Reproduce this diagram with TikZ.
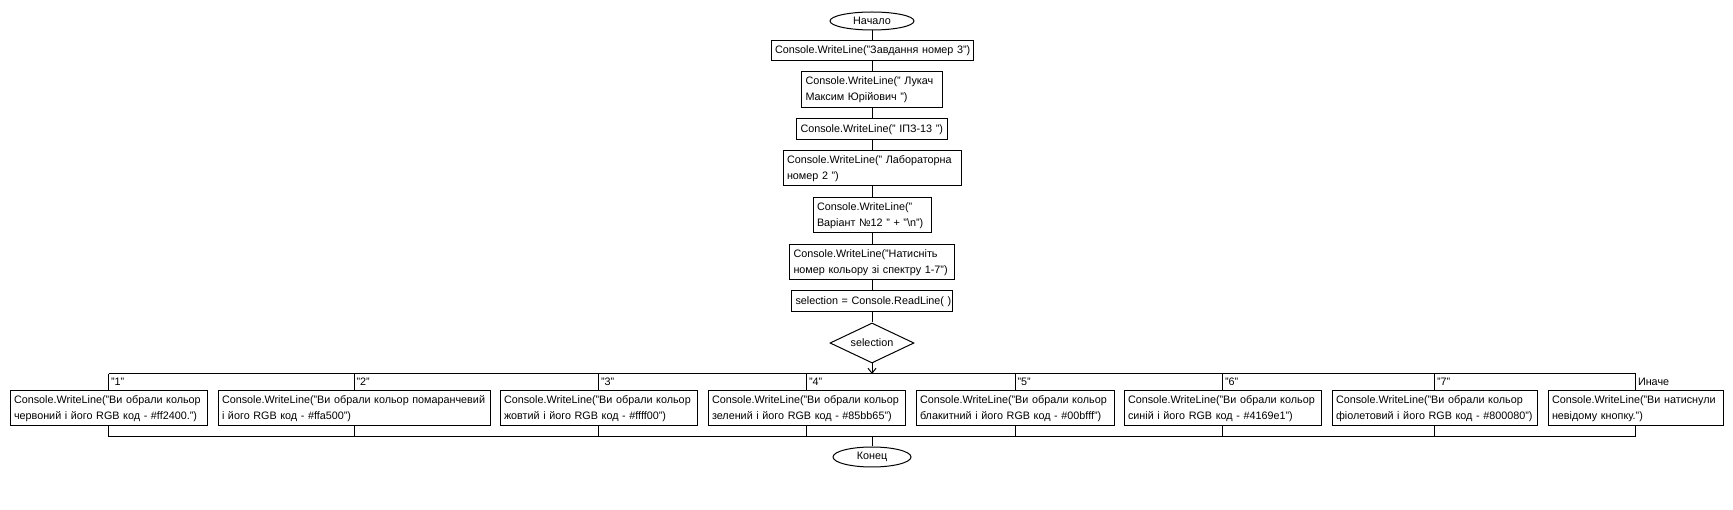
\documentclass[tikz,border=0pt]{standalone}
\usepackage{fontspec}
\setmainfont{Liberation Sans}
\usetikzlibrary{shapes.geometric,arrows.meta}
\newcommand{\lnA}[1]{\mbox{#1}}
\begin{document}
\begin{tikzpicture}[x=1pt,y=-1pt,line width=1pt,
  every node/.style={font=\fontsize{10.8}{16}\selectfont},
  blk/.style={draw,rectangle,inner xsep=4pt,inner ysep=0pt,align=left},
  term/.style={draw,ellipse,inner sep=0pt},
  dec/.style={draw,diamond,aspect=2.1,inner sep=0pt,minimum width=84pt,minimum height=40pt},
  lbl/.style={inner sep=0pt,anchor=west},
  flow/.style={line width=1pt}]
\useasboundingbox (0,0) rectangle (1733,510);
\fill[white] (0,0) rectangle (1733,510);

% main column
\node[term,minimum width=84pt,minimum height=18pt] (start) at (872,21) {Начало};
\node[blk,text width=194pt,minimum height=20pt] (b1) at (872,51) {\lnA{Console.WriteLine("Завдання номер 3")}};
\node[blk,text width=133pt,minimum height=36pt] (b2) at (872,90) {\lnA{Console.WriteLine(" Лукач}\\\lnA{Максим Юрійович ")}};
\node[blk,text width=143pt,minimum height=21pt] (b3) at (872,129.5) {\lnA{Console.WriteLine(" ІПЗ-13 ")}};
\node[blk,text width=170pt,minimum height=35pt] (b4) at (872,168.5) {\lnA{Console.WriteLine(" Лабораторна}\\\lnA{номер 2 ")}};
\node[blk,text width=110pt,minimum height=35pt] (b5) at (872,215.5) {\lnA{Console.WriteLine("}\\\lnA{Варіант №12 " + "\textbackslash n")}};
\node[blk,text width=157pt,minimum height=35pt] (b6) at (872,262.5) {\lnA{Console.WriteLine("Натисніть}\\\lnA{номер кольору зі спектру 1-7")}};
\node[blk,text width=153pt,minimum height=21pt] (b7) at (872,301.5) {\lnA{selection = Console.ReadLine( )}};
\node[dec] (dec) at (872,343) {selection};

\draw[flow] (start) -- (b1);
\draw[flow] (b1) -- (b2);
\draw[flow] (b2) -- (b3);
\draw[flow] (b3) -- (b4);
\draw[flow] (b4) -- (b5);
\draw[flow] (b5) -- (b6);
\draw[flow] (b6) -- (b7);
\draw[flow] (b7) -- (dec);

% branches
\coordinate (bt) at (872,374);
\coordinate (bb) at (872,437);
\node[blk,text width=189pt,minimum height=35pt] (c1) at (108.5,408.5) {\lnA{Console.WriteLine("Ви обрали кольор}\\\lnA{червоний і його RGB код - \#ff2400.")}};
\node[blk,text width=264pt,minimum height=35pt] (c2) at (354,408.5) {\lnA{Console.WriteLine("Ви обрали кольор помаранчевий}\\\lnA{і його RGB код - \#ffa500")}};
\node[blk,text width=189pt,minimum height=35pt] (c3) at (598.5,408.5) {\lnA{Console.WriteLine("Ви обрали кольор}\\\lnA{жовтий і його RGB код - \#ffff00")}};
\node[blk,text width=189pt,minimum height=35pt] (c4) at (806.5,408.5) {\lnA{Console.WriteLine("Ви обрали кольор}\\\lnA{зелений і його RGB код - \#85bb65")}};
\node[blk,text width=190pt,minimum height=35pt] (c5) at (1015,408.5) {\lnA{Console.WriteLine("Ви обрали кольор}\\\lnA{блакитний і його RGB код - \#00bfff")}};
\node[blk,text width=189pt,minimum height=35pt] (c6) at (1222.5,408.5) {\lnA{Console.WriteLine("Ви обрали кольор}\\\lnA{синій і його RGB код - \#4169e1")}};
\node[blk,text width=197pt,minimum height=35pt] (c7) at (1434.5,408.5) {\lnA{Console.WriteLine("Ви обрали кольор}\\\lnA{фіолетовий і його RGB код - \#800080")}};
\node[blk,text width=167pt,minimum height=35pt] (c8) at (1635.5,408.5) {\lnA{Console.WriteLine("Ви натиснули}\\\lnA{невідому кнопку.")}};

\draw[flow,-{Straight Barb[length=5pt,width=8pt]}] (dec) -- (bt);
\draw[flow] (c1 |- bt) -- (c8 |- bt);
\draw[flow] (c1 |- bb) -- (c8 |- bb);
\foreach \c in {c1,c2,c3,c4,c5,c6,c7,c8}{
  \draw[flow] (\c |- bt) -- (\c.north);
  \draw[flow] (\c.south) -- (\c |- bb);
}

\path (c1.north) ++(2,-8.5) node[lbl] (l1) {"1"};
\path (c2.north) ++(2,-8.5) node[lbl] (l2) {"2"};
\path (c3.north) ++(2,-8.5) node[lbl] (l3) {"3"};
\path (c4.north) ++(2,-8.5) node[lbl] (l4) {"4"};
\path (c5.north) ++(2,-8.5) node[lbl] (l5) {"5"};
\path (c6.north) ++(2,-8.5) node[lbl] (l6) {"6"};
\path (c7.north) ++(2,-8.5) node[lbl] (l7) {"7"};
\path (c8.north) ++(2,-8.5) node[lbl] (l8) {Иначе};

\node[term,minimum width=78pt,minimum height=20pt] (end) at (872,457) {Конец};
\draw[flow] (bb) -- (end);
\end{tikzpicture}
\end{document}
